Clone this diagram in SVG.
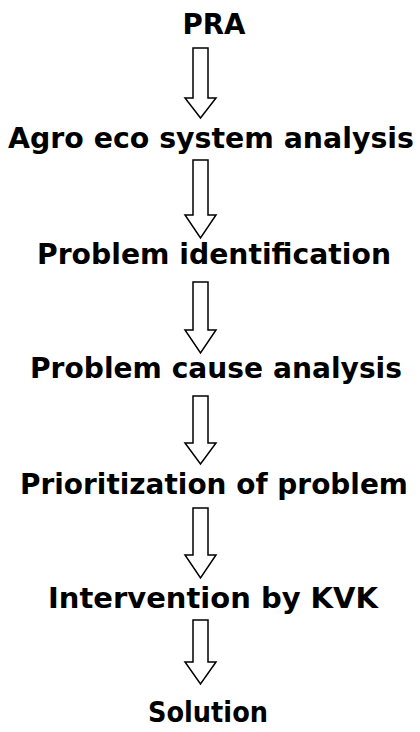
<svg xmlns="http://www.w3.org/2000/svg" width="420" height="732" viewBox="0 0 420 732">
<style>
.t{font-family:"DejaVu Sans",sans-serif;font-weight:bold;font-size:28.5px;fill:#000;text-anchor:middle}
.a{fill:#fff;stroke:#000;stroke-width:1.5;stroke-linejoin:miter}
</style>
<rect width="420" height="732" fill="#fff"/>
<g id="connectors">
<path class="a" d="M193,48 H208 V98 H216 L200.5,118 L185,98 H193 Z"/>
<path class="a" d="M193,160 H208 V215 H216 L200.5,238 L185,215 H193 Z"/>
<path class="a" d="M193,282 H208 V330 H216 L200.5,353 L185,330 H193 Z"/>
<path class="a" d="M193,396 H208 V443 H216 L200.5,464 L185,443 H193 Z"/>
<path class="a" d="M193,508 H208 V555 H216 L200.5,578 L185,555 H193 Z"/>
<path class="a" d="M193,620 H208 V662 H216 L200.5,684 L185,662 H193 Z"/>
</g>
<g id="n1"><text class="t" x="214" y="34" textLength="63" lengthAdjust="spacingAndGlyphs">PRA</text></g>
<g id="n2"><text class="t" x="211" y="148" textLength="406" lengthAdjust="spacingAndGlyphs">Agro eco system analysis</text></g>
<g id="n3"><text class="t" x="214" y="264" textLength="354" lengthAdjust="spacingAndGlyphs">Problem identification</text></g>
<g id="n4"><text class="t" x="216" y="378" textLength="372" lengthAdjust="spacingAndGlyphs">Problem cause analysis</text></g>
<g id="n5"><text class="t" x="214" y="494" textLength="388" lengthAdjust="spacingAndGlyphs">Prioritization of problem</text></g>
<g id="n6"><text class="t" x="213" y="608" textLength="330" lengthAdjust="spacingAndGlyphs">Intervention by KVK</text></g>
<g id="n7"><text class="t" x="208" y="722" textLength="120" lengthAdjust="spacingAndGlyphs">Solution</text></g>
</svg>
